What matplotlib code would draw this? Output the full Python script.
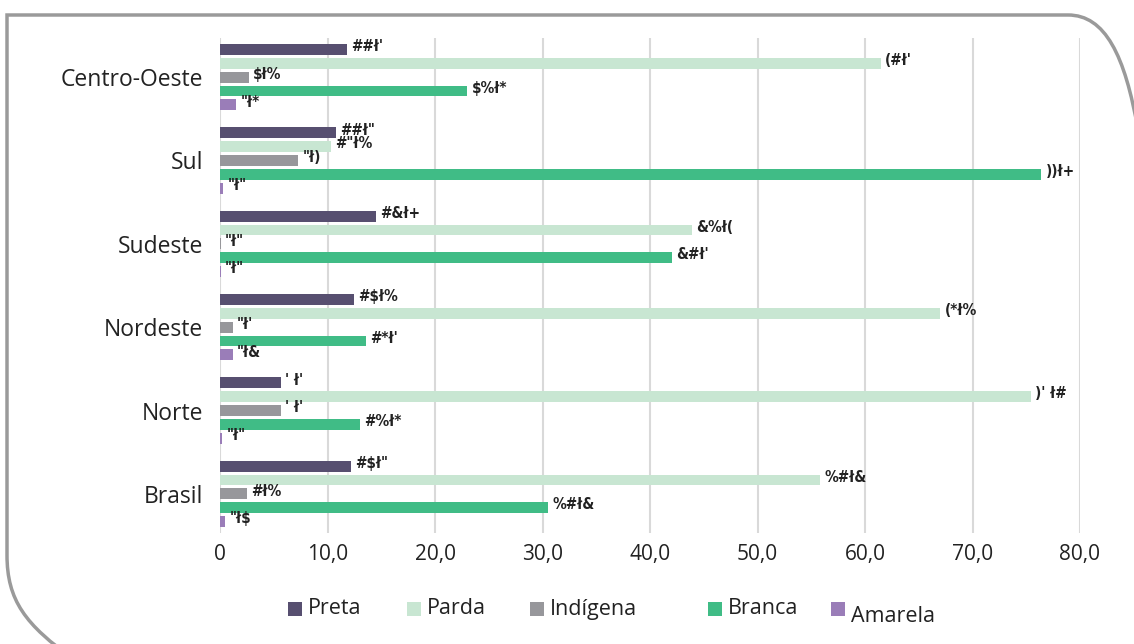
import matplotlib
matplotlib.use("Agg")
import matplotlib.pyplot as plt
import numpy as np
from matplotlib.path import Path
from matplotlib.patches import PathPatch, Rectangle

regions = ["Brasil", "Norte", "Nordeste", "Sudeste", "Sul", "Centro-Oeste"]
series = ["Preta", "Parda", "Indígena", "Branca", "Amarela"]
colors = ["#574F70", "#C8E6D2", "#97979B", "#40BC86", "#9A7DB8"]

preta = [12.2, 5.7, 12.5, 14.5, 10.8, 11.8]
parda = [55.8, 75.4, 67.0, 43.9, 10.3, 61.5]
indigena = [2.5, 5.7, 1.2, 0.1, 7.3, 2.7]
branca = [30.5, 13.0, 13.6, 42.0, 76.4, 23.0]
amarela = [0.5, 0.2, 1.2, 0.1, 0.3, 1.5]

labels_preta = ["#$ł\"", "' ł'", "#$ł%", "#&ł+", "##ł\"", "##ł'"]
labels_parda = ["%#ł&", ")' ł#", "(*ł%", "&%ł(", "#\"ł%", "(#ł'"]
labels_indigena = ["#ł%", "' ł'", "\"ł'", "\"ł\"", "\"ł)", "$ł%"]
labels_branca = ["%#ł&", "#%ł*", "#*ł'", "&#ł'", "))ł+", "$%ł*"]
labels_amarela = ["\"ł$", "\"ł\"", "\"ł&", "\"ł\"", "\"ł\"", "\"ł*"]

xticks = [0, 10, 20, 30, 40, 50, 60, 70, 80]
xticklabels = ["0", "10,0", "20,0", "30,0", "40,0", "50,0", "60,0", "70,0", "80,0"]

W, H = 1134, 644
fig = plt.figure(figsize=(W / 100, H / 100), dpi=100)
plt.rcParams['font.family'] = ['Open Sans', 'DejaVu Sans']

ax = fig.add_axes([220 / W, 1 - 533 / H, 860 / W, 495 / H])

data = [preta, parda, indigena, branca, amarela]
labs = [labels_preta, labels_parda, labels_indigena, labels_branca, labels_amarela]
step = 0.166
bh = 0.13
y = np.arange(len(regions))
for i, (vals, lab, c, name) in enumerate(zip(data, labs, colors, series)):
    off = (2 - i) * step
    ax.barh(y + off, vals, height=bh, color=c, label=name, zorder=3)
    for yy, v, t in zip(y + off, vals, lab):
        ax.annotate(t, xy=(v, yy), xytext=(3, 2), textcoords="offset points",
                    ha="left", va="center", fontsize=11, fontweight="bold",
                    fontstretch="condensed",
                    color="#222222", family=["DejaVu Sans"], zorder=4)

ax.set_xlim(0, 80)
ax.set_ylim(-0.47, 5.47)
ax.set_yticks(y)
ax.set_yticklabels(regions, fontsize=16.5, color="#222222")
ax.set_xticks(xticks)
ax.set_xticklabels(xticklabels, fontsize=15, color="#222222")
ax.tick_params(axis="both", length=0)
ax.tick_params(axis="y", pad=12)
ax.tick_params(axis="x", pad=8)
ax.grid(axis="x", color="#D9D9D9", linewidth=1.5, zorder=0)
for s in ax.spines.values():
    s.set_visible(False)

# legend (manual layout)
leg_x = [288, 407, 530, 708, 831]
leg_dy = [0, 0, 0, 0, 7]
for xx, dy, c, n in zip(leg_x, leg_dy, colors, series):
    fig.patches.append(Rectangle(((xx) / W, 1 - (616) / H), 14 / W, 14 / H,
                                 facecolor=c, edgecolor="none", transform=fig.transFigure))
    fig.text((xx + 20) / W, 1 - (609 + dy) / H, n, fontsize=15.5, color="#222222",
             ha="left", va="center")

# rounded frame
def px(x, yy):
    return (x / W, 1 - yy / H)

verts = [px(75, 660), px(25, 625), px(7, 600), px(7, 555),
         px(7, 15), px(1068, 15),
         px(1105, 15), px(1125, 55), px(1138, 130)]
codes = [Path.MOVETO, Path.CURVE4, Path.CURVE4, Path.CURVE4,
         Path.LINETO, Path.LINETO,
         Path.CURVE4, Path.CURVE4, Path.CURVE4]
frame = PathPatch(Path(verts, codes), facecolor="none", edgecolor="#9A9A9A",
                  linewidth=2.5, transform=fig.transFigure)
fig.patches.append(frame)

fig.savefig("out.png", dpi=100)
